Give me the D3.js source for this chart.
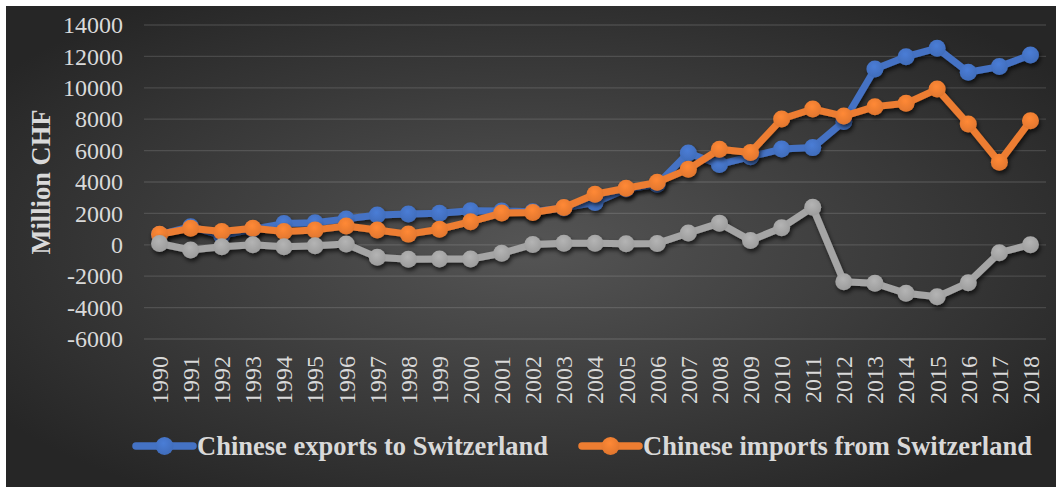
<!DOCTYPE html>
<html>
<head>
<meta charset="utf-8">
<script src="https://cdn.jsdelivr.net/npm/d3@7"></script>
<style>
  html, body { margin: 0; padding: 0; background: #ffffff; }
  svg { display: block; }
  text { font-family: "Liberation Serif", "Times New Roman", serif; }
</style>
</head>
<body>
<svg id="chart" width="1061" height="489"></svg>
<script>
// ---- data ----
const years = ["1990","1991","1992","1993","1994","1995","1996","1997","1998","1999",
  "2000","2001","2002","2003","2004","2005","2006","2007","2008","2009",
  "2010","2011","2012","2013","2014","2015","2016","2017","2018"];
const exportsToCH = [650,1150,600,1000,1350,1400,1650,1900,1960,2010,
  2170,2150,2100,2350,2700,3550,3850,5850,5120,5610,
  6100,6190,7850,11200,11980,12520,10990,11350,12090];
const importsFromCH = [670,1050,850,1050,850,950,1200,940,680,990,
  1470,2020,2060,2380,3220,3600,3980,4820,6090,5880,
  8010,8650,8200,8800,9010,9920,7690,5260,7900];
const balance = [80,-330,-120,0,-120,-60,50,-800,-920,-900,
  -910,-540,20,100,100,60,90,750,1380,280,
  1090,2390,-2350,-2450,-3090,-3310,-2410,-500,10];
const yTicks = [-6000,-4000,-2000,0,2000,4000,6000,8000,10000,12000,14000];
const seriesNames = ["Chinese exports to Switzerland","Chinese imports from Switzerland"];
const seriesColors = ["#4472c4","#ed7d31","#a5a5a5"];

// ---- setup ----
const FONT = "'Liberation Serif','Times New Roman',serif";
const svg = d3.select("#chart");
const defs = svg.append("defs");

const bg = defs.append("radialGradient").attr("id","bg")
  .attr("cx","50%").attr("cy","50%").attr("r","62%");
bg.append("stop").attr("offset","0%").attr("stop-color","#555555");
bg.append("stop").attr("offset","100%").attr("stop-color","#262626");

const sh = defs.append("filter").attr("id","shadow")
  .attr("x","-10%").attr("y","-10%").attr("width","120%").attr("height","130%");
sh.append("feDropShadow").attr("dx",1.5).attr("dy",3).attr("stdDeviation",2)
  .attr("flood-color","#000").attr("flood-opacity",0.65);

seriesColors.forEach((c,i)=>{
  const g = defs.append("radialGradient").attr("id","mk"+i)
    .attr("cx","45%").attr("cy","35%").attr("r","65%");
  g.append("stop").attr("offset","0%").attr("stop-color", d3.color(c).brighter(0.25));
  g.append("stop").attr("offset","100%").attr("stop-color", d3.color(c).darker(0.15));
});

svg.append("rect").attr("x",6).attr("y",6).attr("width",1050).attr("height",481)
  .attr("fill","url(#bg)");

const x = d3.scaleBand().domain(years).range([144,1046]).padding(0);
const y = d3.scaleLinear().domain([-6000,14000]).range([339,25]);
const cx = d => x(d) + x.bandwidth()/2;

// gridlines
svg.append("g").selectAll("line").data(yTicks).join("line")
  .attr("x1",144).attr("x2",1046)
  .attr("y1",d=>y(d)).attr("y2",d=>y(d))
  .attr("stroke","#ffffff").attr("stroke-opacity",0.13).attr("stroke-width",1.3);

// y axis labels
const yAxis = d3.axisLeft(y).tickValues(yTicks).tickSize(0).tickPadding(0)
  .tickFormat(d => String(d));
const ya = svg.append("g").attr("transform","translate(123,0)").call(yAxis)
  .attr("font-family", FONT).attr("font-size", 24);
ya.select(".domain").remove();
ya.selectAll("text").attr("fill","#d9d9d9");

// x axis labels
const xAxis = d3.axisBottom(x).tickSize(0).tickPadding(0);
const xa = svg.append("g").attr("transform","translate(0,355)").call(xAxis)
  .attr("font-family", FONT).attr("font-size", 24);
xa.select(".domain").remove();
xa.selectAll("text")
  .attr("fill","#d9d9d9")
  .attr("text-anchor","end")
  .attr("transform","rotate(-90)")
  .attr("x",-1).attr("y",0).attr("dy","0.35em");

// y axis title
svg.append("text")
  .attr("transform","translate(50,182) rotate(-90)")
  .attr("text-anchor","middle")
  .attr("fill","#d9d9d9")
  .attr("font-family", FONT).attr("font-size", 26.5).attr("font-weight","bold")
  .text("Million CHF");

// series
const allSeries = [exportsToCH, importsFromCH, balance];
const line = d3.line().x((d,i)=>cx(years[i])).y(d=>y(d));
allSeries.forEach((vals,si)=>{
  const g = svg.append("g").attr("filter","url(#shadow)");
  g.append("path").datum(vals).attr("d",line)
    .attr("fill","none").attr("stroke",seriesColors[si])
    .attr("stroke-width",7).attr("stroke-linejoin","round").attr("stroke-linecap","round");
  g.selectAll("circle").data(vals).join("circle")
    .attr("cx",(d,i)=>cx(years[i])).attr("cy",d=>y(d)).attr("r",8.5)
    .attr("fill","url(#mk"+si+")");
});

// legend
const legendItems = [
  {name: seriesNames[0], color: seriesColors[0], x0: 136, x1: 193, tx: 197, idx:0},
  {name: seriesNames[1], color: seriesColors[1], x0: 582, x1: 639, tx: 643, idx:1}
];
const lg = svg.append("g");
legendItems.forEach(it=>{
  lg.append("line").attr("x1",it.x0).attr("x2",it.x1).attr("y1",446).attr("y2",446)
    .attr("stroke",it.color).attr("stroke-width",7.5).attr("stroke-linecap","round");
  lg.append("circle").attr("cx",(it.x0+it.x1)/2).attr("cy",446).attr("r",9)
    .attr("fill","url(#mk"+it.idx+")");
  lg.append("text").attr("x",it.tx).attr("y",446).attr("dy","0.35em")
    .attr("fill","#d9d9d9")
    .attr("font-family", FONT).attr("font-size", 26.5).attr("font-weight","bold")
    .text(it.name);
});
</script>
</body>
</html>
